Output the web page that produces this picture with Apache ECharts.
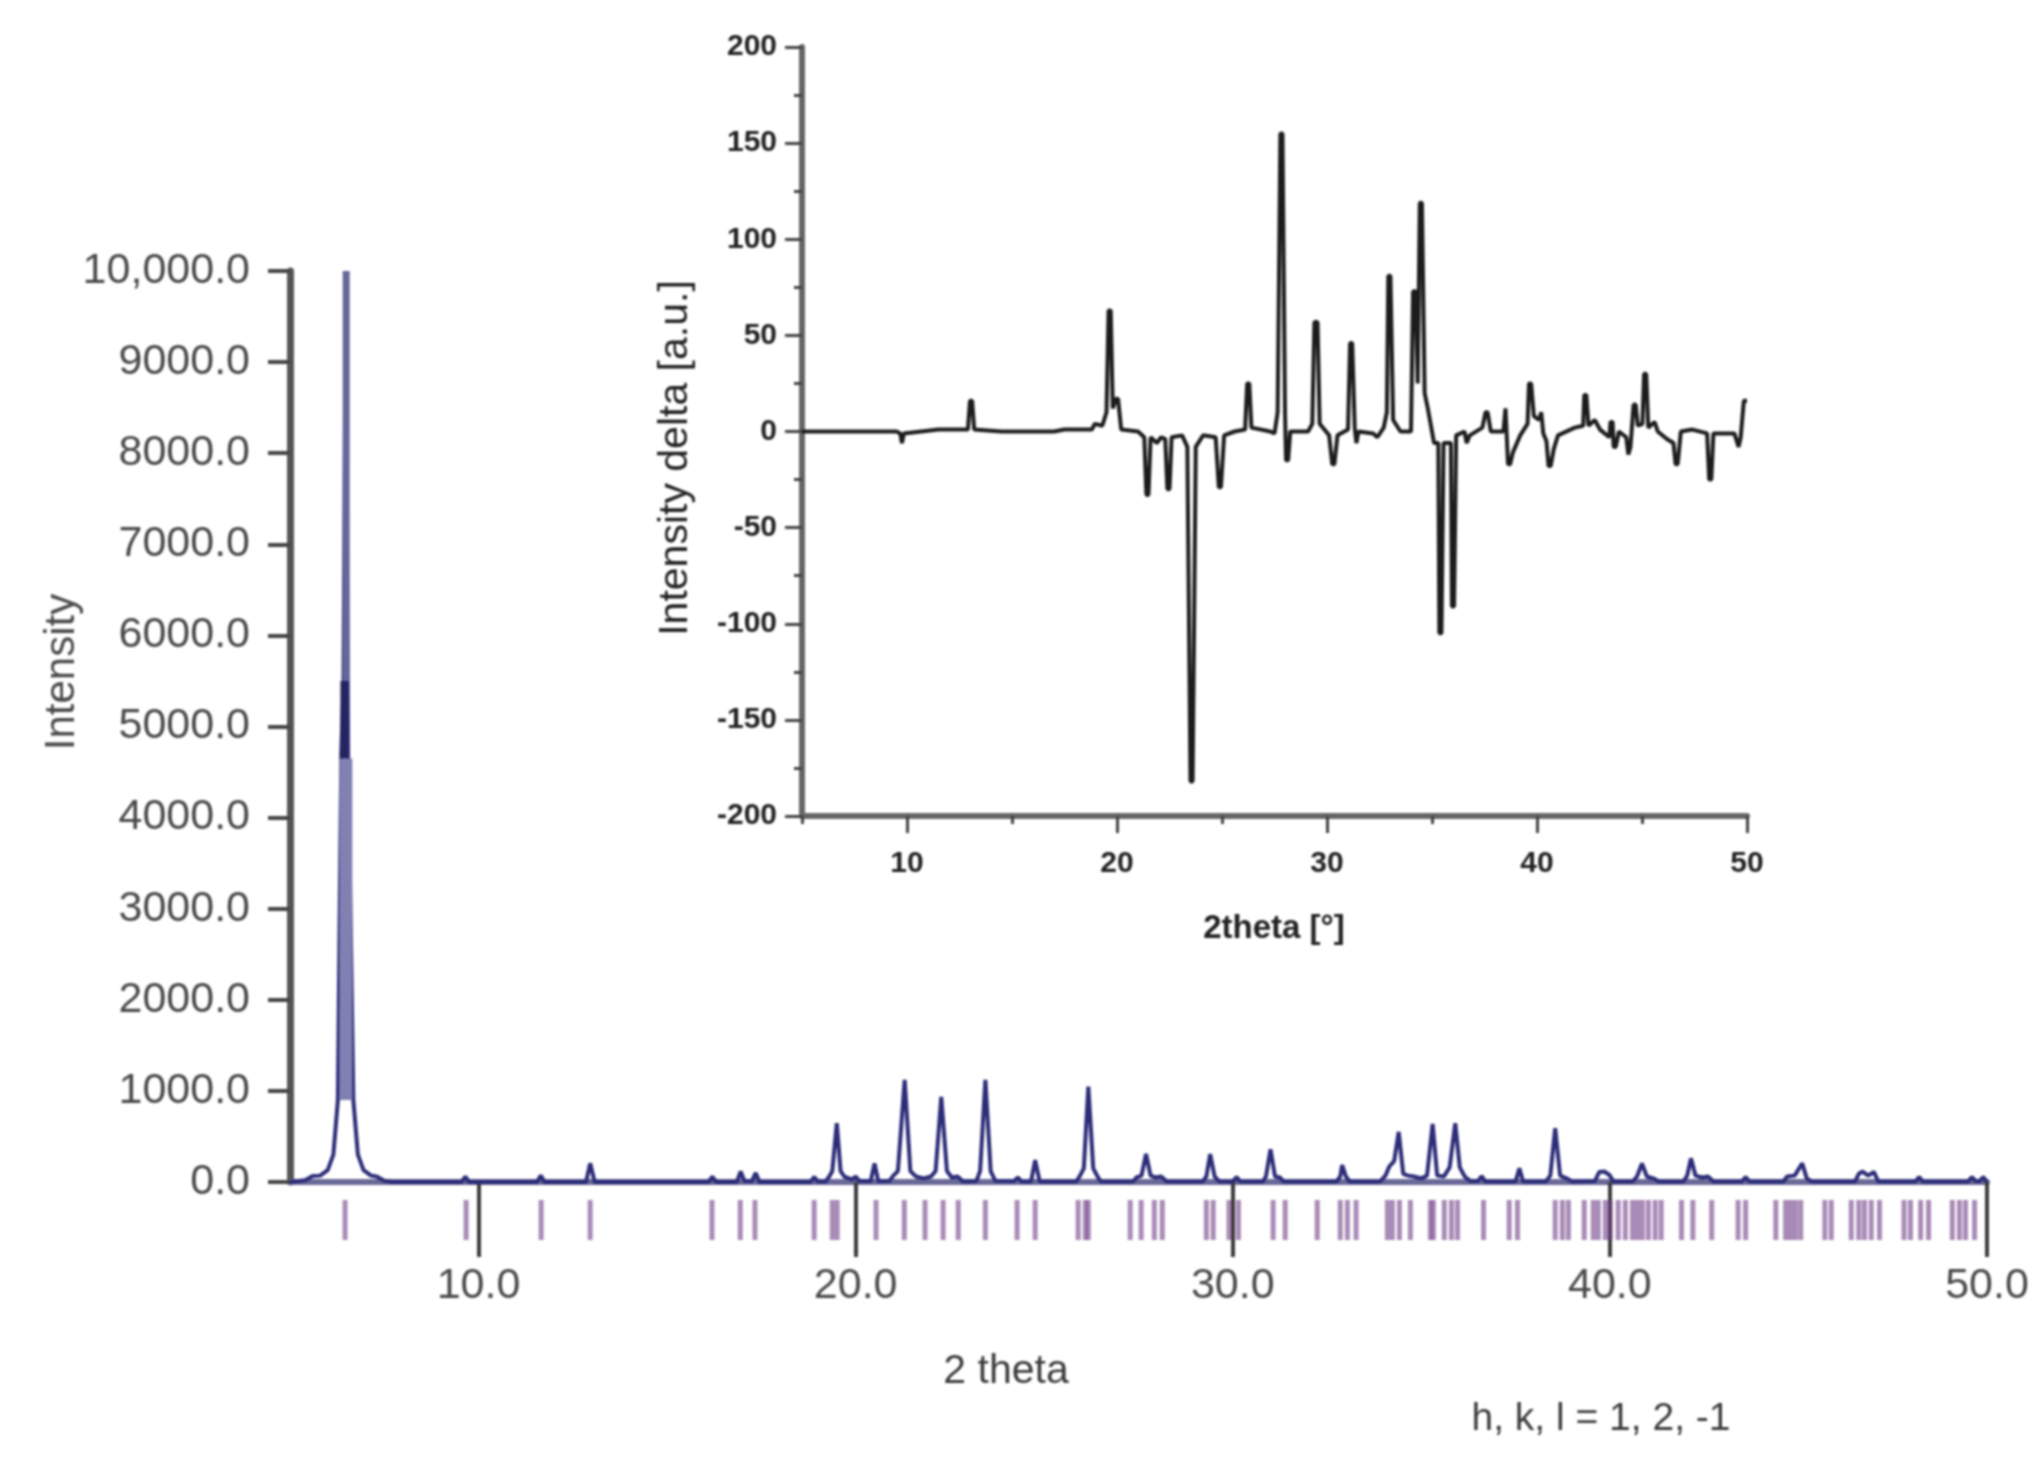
<!DOCTYPE html>
<html>
<head>
<meta charset="utf-8">
<style>
html, body { margin: 0; padding: 0; background: #fff; }
/* the source picture is a soft scan */
#main { width: 2033px; height: 1468px; filter: blur(0.8px); }
</style>
<script src="https://cdn.jsdelivr.net/npm/echarts@6/dist/echarts.min.js"></script>
</head>
<body>
<div id="main"></div>
<script>
// powder pattern [2theta, intensity]
var patternPoints = [
    [5,0],[5.4,20],[5.6,65],[5.8,70],[6.0,130],[6.15,300],[6.27,900],[6.36,4700],[6.42,5500],[6.48,10000],
    [6.54,4700],[6.68,900],[6.8,300],[6.95,130],[7.15,70],[7.3,60],[7.5,15],[7.7,0],
    [9.55,0],[9.65,60],[9.75,0],[11.55,0],[11.65,70],[11.75,0],[12.85,0],[12.96,205],[13.08,0],
    [16.1,0],[16.2,60],[16.3,0],[16.85,0],[16.95,115],[17.05,10],[17.25,10],[17.35,100],[17.45,0],
    [18.8,0],[18.9,55],[19.0,5],[19.2,5],[19.3,60],[19.38,120],[19.5,645],[19.6,120],[19.7,60],[19.9,30],[20.0,60],[20.1,10],
    [20.4,10],[20.5,205],[20.6,10],[20.9,15],[21.0,70],[21.12,120],[21.3,1120],[21.45,120],[21.6,60],[21.8,40],[22.0,60],
    [22.12,120],[22.27,935],[22.42,120],[22.55,50],[22.7,60],[22.85,5],[23.2,10],[23.3,120],[23.44,1120],[23.58,120],[23.7,15],
    [24.2,10],[24.3,50],[24.4,5],[24.65,5],[24.76,240],[24.88,5],[25.85,5],[25.95,70],[26.05,150],[26.17,1046],[26.3,150],[26.4,70],[26.5,5],
    [27.35,5],[27.45,50],[27.58,70],[27.7,307],[27.82,70],[27.95,50],[28.1,60],[28.25,5],
    [29.2,5],[29.3,60],[29.4,307],[29.52,60],[29.65,5],[30.0,5],[30.1,55],[30.2,5],
    [30.8,5],[30.88,60],[31.0,360],[31.12,60],[31.25,50],[31.35,5],[32.75,5],[32.85,60],[32.9,186],[33.0,60],[33.1,5],
    [33.9,5],[34.05,70],[34.15,170],[34.28,230],[34.4,550],[34.52,90],[34.65,70],[34.8,60],[35.0,40],[35.15,70],[35.3,637],[35.42,70],
    [35.6,60],[35.75,160],[35.9,645],[36.02,160],[36.15,60],[36.3,10],[36.5,10],[36.6,65],[36.7,5],
    [37.5,5],[37.6,150],[37.7,5],[38.3,5],[38.42,70],[38.55,590],[38.68,70],[38.85,40],[39.0,5],
    [39.6,10],[39.72,110],[39.85,115],[39.98,80],[40.1,5],[40.6,5],[40.72,60],[40.85,205],[40.98,60],[41.15,40],[41.3,5],
    [41.95,5],[42.05,70],[42.15,260],[42.27,70],[42.45,50],[42.6,60],[42.75,5],[43.5,5],[43.6,55],[43.7,5],
    [44.6,5],[44.7,60],[44.9,70],[45.1,205],[45.22,40],[45.35,5],[46.5,5],[46.6,90],[46.7,115],[46.85,70],[47.0,110],[47.12,5],
    [48.1,5],[48.2,55],[48.3,5],[49.5,5],[49.6,55],[49.7,10],[49.8,10],[49.9,55],[50,0]
];

// the strongest peak is smeared into bands: body, dark waist, upper tip
var peakBody = [[6.48,900],[6.48,4650]];
var peakWaist = [[6.43,4650],[6.43,5500]];
var peakTip = [[6.49,5500],[6.49,10000]];

// reflection positions in the tick row under the pattern
var reflections = [
    6.46,9.67,11.66,12.96,16.19,16.94,17.33,18.9,19.38,19.51,20.54,21.29,21.84,22.32,22.72,23.44,24.28,24.76,
    25.9,26.09,26.17,27.28,27.57,27.92,28.13,29.3,29.48,29.9,30.15,31.07,31.39,32.24,32.85,33.04,33.27,
    34.1,34.23,34.42,34.71,35.24,35.32,35.61,35.8,35.96,36.65,37.33,37.55,38.55,38.74,38.9,39.32,39.56,39.69,39.88,40.01,
    40.22,40.41,40.6,40.73,40.86,41.02,41.2,41.36,41.9,42.2,42.7,43.4,43.6,44.4,44.66,44.79,44.92,45.06,45.7,45.87,
    46.4,46.6,46.75,46.93,47.15,47.8,47.97,48.24,48.45,49.08,49.27,49.43,49.67
];

// inset difference curve [2theta, intensity delta]
var deltaPoints = [
    [5,0],[9.5,0],[9.68,-1],[9.76,-6],[9.85,-1],[11.5,1],[12.9,1],[13,16],[13.1,16],[13.2,1],[14.5,0],[17,0],[17.5,1],[18.8,1],
    [18.95,4],[19.3,3],[19.5,10],[19.6,63],[19.7,63],[19.8,12],[19.95,17],[20.05,17],[20.2,1],[21,0],[21.3,-3],[21.4,-33],[21.5,-33],[21.6,-3],
    [21.9,-6],[22.1,-3],[22.3,-4],[22.4,-30],[22.5,-30],[22.6,-3],[23.1,-2],[23.35,-8],[23.5,-182],[23.6,-182],[23.75,-8],[24.1,-2],[24.7,-3],
    [24.85,-29],[24.95,-29],[25.1,-2],[25.6,0],[26.1,1],[26.2,25],[26.3,25],[26.4,2],[27.3,0],[27.5,-1],[27.65,10],[27.78,155],[27.88,155],
    [28,10],[28.05,-15],[28.15,-15],[28.25,0],[29.1,0],[29.3,4],[29.4,57],[29.55,57],[29.65,4],[30.1,-2],[30.25,-17],[30.35,-17],[30.5,-2],[31,1],
    [31.1,46],[31.2,46],[31.32,2],[31.4,-6],[31.5,0],[32.2,-1],[32.4,-3],[32.7,2],[32.85,10],[32.92,81],[33.02,81],[33.15,6],[33.5,0],[34,0],
    [34.1,73],[34.22,73],[34.32,25],[34.42,119],[34.52,119],[34.65,20],[34.8,12],[35.1,-6],[35.3,-6],[35.35,-105],[35.45,-105],[35.55,-6],[35.9,-6],
    [35.95,-91],[36.05,-91],[36.15,-2],[36.55,0],[36.65,-6],[36.8,-2],[37.4,2],[37.55,10],[37.65,10],[37.8,0],[38.4,0],[38.5,12],[38.58,12],[38.62,-17],
    [38.72,-17],[38.85,-11],[39.2,-2],[39.55,4],[39.62,25],[39.72,25],[39.85,8],[40.1,6],[40.2,10],[40.3,-1],[40.45,-5],[40.55,-18],[40.65,-18],
    [40.8,-9],[41,-2],[41.8,2],[42.2,3],[42.25,19],[42.35,19],[42.45,3],[42.75,6],[43,1],[43.45,-3],[43.5,5],[43.6,5],[43.65,-8],[43.75,-8],[43.9,0],
    [44.25,-3],[44.35,-12],[44.45,-8],[44.6,14],[44.7,14],[44.8,3],[45.02,4],[45.1,30],[45.2,30],[45.3,2],[45.6,5],[45.75,0],[46.2,-4],[46.5,-6],
    [46.6,-17],[46.7,-17],[46.85,0],[47.4,1],[48.1,-1],[48.2,-25],[48.3,-25],[48.4,-1],[49.4,-1],[49.6,-8],[49.7,-3],[49.85,16],[50,16]
];

var mainXTicks = [10, 20, 30, 40, 50];
var insetXTicks = [10, 20, 30, 40, 50];
var insetXMinorTicks = [5, 15, 25, 35, 45];

var mainChart = echarts.init(document.getElementById('main'));
var fontName = '"Liberation Sans", Arial, sans-serif';

function bandSeries(points, color, width) {
    return {
        type: 'line', xAxisIndex: 0, yAxisIndex: 0, showSymbol: false, silent: true,
        lineStyle: { color: color, width: width, cap: 'butt' },
        data: points
    };
}

var option = {
    backgroundColor: '#ffffff',
    animation: false,
    grid: [
        { left: 290, top: 271, width: 1697, height: 911 },   // pattern
        { left: 290, top: 1200, width: 1697, height: 40 },   // reflection row
        { left: 802, top: 47, width: 945, height: 769 }      // inset
    ],
    xAxis: [
        {
            gridIndex: 0, type: 'value', min: 5, max: 50,
            splitLine: { show: false },
            axisLine: { lineStyle: { color: '#6a6a98', width: 6 } },
            axisTick: { customValues: mainXTicks, length: 75, lineStyle: { color: '#3c3c3c', width: 4 } },
            axisLabel: {
                customValues: mainXTicks, margin: 83, color: '#4a4a4a', fontSize: 43, fontFamily: fontName,
                formatter: function (v) { return v.toFixed(1); }
            }
        },
        { gridIndex: 1, type: 'value', min: 5, max: 50, show: false },
        {
            gridIndex: 2, type: 'value', min: 5, max: 50, position: 'bottom',
            splitLine: { show: false },
            axisLine: { onZero: false, lineStyle: { color: '#666', width: 6 } },
            axisTick: { customValues: insetXTicks, length: 17, lineStyle: { color: '#444', width: 3 } },
            axisLabel: { customValues: insetXTicks, margin: 33, color: '#222', fontSize: 30, fontWeight: 'bold', fontFamily: fontName }
        },
        {
            // short ticks halfway between the labelled ones
            gridIndex: 2, type: 'value', min: 5, max: 50, position: 'bottom',
            splitLine: { show: false },
            axisLine: { show: false, onZero: false },
            axisTick: { customValues: insetXMinorTicks, length: 8, lineStyle: { color: '#444', width: 3 } },
            axisLabel: { show: false }
        }
    ],
    yAxis: [
        {
            gridIndex: 0, type: 'value', min: 0, max: 10000, interval: 1000,
            splitLine: { show: false },
            axisLine: { show: true, lineStyle: { color: '#555', width: 7 } },
            axisTick: { length: 22, lineStyle: { color: '#444', width: 4 } },
            axisLabel: {
                margin: 40, color: '#4a4a4a', fontSize: 43, fontFamily: fontName,
                formatter: function (v) { return v === 10000 ? '10,000.0' : v.toFixed(1); }
            }
        },
        { gridIndex: 1, type: 'value', min: 0, max: 1, show: false },
        {
            gridIndex: 2, type: 'value', min: -200, max: 200, interval: 50,
            splitLine: { show: false },
            axisLine: { show: true, onZero: false, lineStyle: { color: '#666', width: 6 } },
            axisTick: { length: 17, lineStyle: { color: '#444', width: 3 } },
            minorTick: { show: true, splitNumber: 2, length: 8, lineStyle: { color: '#444', width: 3 } },
            axisLabel: { margin: 25, color: '#222', fontSize: 30, fontWeight: 'bold', fontFamily: fontName }
        }
    ],
    series: [
        {
            type: 'bar', xAxisIndex: 1, yAxisIndex: 1, barWidth: 5, silent: true,
            itemStyle: { color: 'rgba(112,62,135,0.6)' },
            data: reflections.map(function (x) { return [x, 1]; })
        },
        {
            type: 'line', xAxisIndex: 0, yAxisIndex: 0, showSymbol: false, silent: true,
            lineStyle: { color: '#2c2c78', width: 4 },
            data: patternPoints
        },
        bandSeries(peakBody, '#8080b2', 13),
        bandSeries(peakWaist, '#24245e', 7),
        bandSeries(peakTip, '#66669a', 7),
        {
            type: 'line', xAxisIndex: 2, yAxisIndex: 2, showSymbol: false, silent: true,
            lineStyle: { color: '#1c1c1c', width: 4 },
            data: deltaPoints
        }
    ],
    graphic: [
        { type: 'text', x: 62, y: 672, rotation: Math.PI / 2, style: { text: 'Intensity', fill: '#4a4a4a', font: '42px ' + fontName, align: 'center', verticalAlign: 'middle' } },
        { type: 'text', x: 1006, y: 1372, style: { text: '2 theta', fill: '#3c3c3c', font: '41px ' + fontName, align: 'center', verticalAlign: 'middle' } },
        { type: 'text', x: 1601, y: 1419, style: { text: 'h, k, l = 1, 2, -1', fill: '#3c3c3c', font: '39px ' + fontName, align: 'center', verticalAlign: 'middle' } },
        { type: 'text', x: 676, y: 458, rotation: Math.PI / 2, style: { text: 'Intensity delta [a.u.]', fill: '#222', font: '41px ' + fontName, align: 'center', verticalAlign: 'middle' } },
        { type: 'text', x: 1274, y: 929, style: { text: '2theta [°]', fill: '#222', font: 'bold 33px ' + fontName, align: 'center', verticalAlign: 'middle' } }
    ]
};

mainChart.setOption(option);
</script>
</body>
</html>
